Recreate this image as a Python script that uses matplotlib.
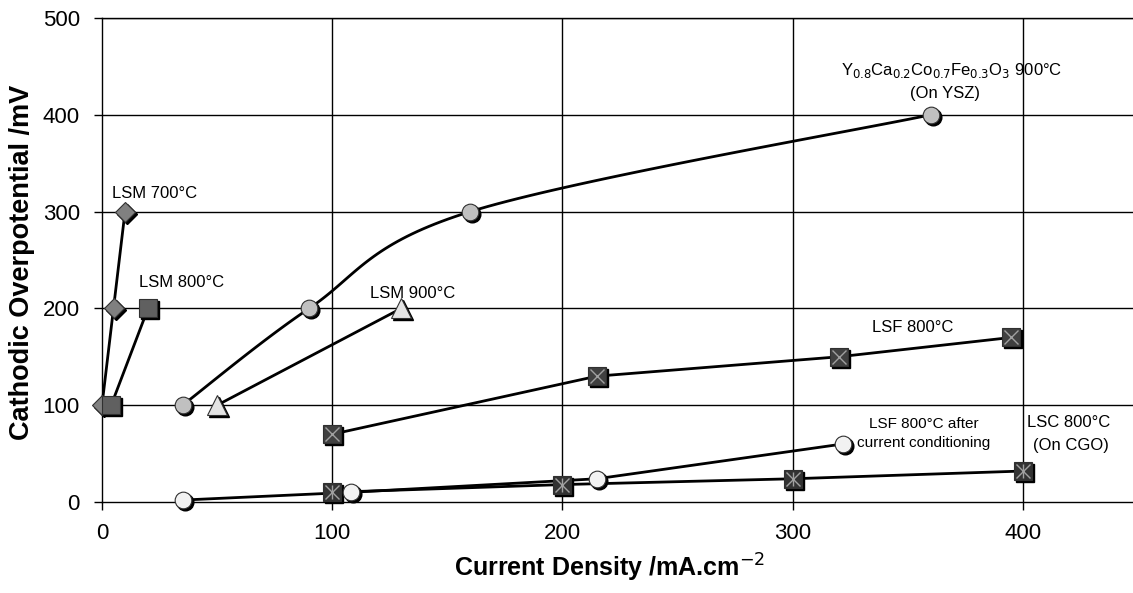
import numpy as np
import matplotlib
matplotlib.use('Agg')
import matplotlib.pyplot as plt
from matplotlib.transforms import offset_copy

plt.rcParams['font.family'] = ['Liberation Sans', 'DejaVu Sans']

# Data (current density mA/cm2, overpotential mV)
lsm700_x = [0, 5, 10]
lsm700_y = [100, 200, 300]
lsm800_x = [4, 20]
lsm800_y = [100, 200]
lsm900_x = [50, 130]
lsm900_y = [100, 200]
ycc_x = [35, 90, 160, 360]
ycc_y = [100, 200, 300, 400]
lsf_x = [100, 215, 320, 395]
lsf_y = [70, 130, 150, 170]
lsfc_x = [35, 108, 215, 322]
lsfc_y = [2, 10, 24, 60]
lsc_x = [100, 200, 300, 400]
lsc_y = [10, 18, 24, 32]

x_ticks = [0, 100, 200, 300, 400]
y_ticks = [0, 100, 200, 300, 400, 500]

fig = plt.figure(figsize=(11.33, 5.93), dpi=100)
ax = fig.add_axes([102 / 1133, 91 / 593, 1036 / 1133, 484 / 593])
ax.set_xlim(0, 450)
ax.set_ylim(0, 500)

# grid
for v in x_ticks[1:]:
    ax.axvline(v, color='black', lw=1, zorder=1)
for v in y_ticks[1:]:
    ax.axhline(v, color='black', lw=1, zorder=1)

shadow = offset_copy(ax.transData, fig=fig, x=2, y=-2, units='dots')


def smooth(xs, ys, n=40):
    # Excel-like smoothed line (bezier through points), done in pixel-ish space
    sx, sy = 2.3, 0.968
    p = np.column_stack([np.array(xs) * sx, np.array(ys) * sy])
    pts = np.vstack([p[0], p, p[-1]])
    out = []
    t = np.linspace(0, 1, n)[:, None]
    for i in range(1, len(pts) - 2):
        p0, p1 = pts[i], pts[i + 1]
        c1 = p0 + (pts[i + 1] - pts[i - 1]) / 6
        c2 = p1 - (pts[i + 2] - pts[i]) / 6
        seg = (1 - t) ** 3 * p0 + 3 * (1 - t) ** 2 * t * c1 + 3 * (1 - t) * t ** 2 * c2 + t ** 3 * p1
        out.append(seg)
    out = np.vstack(out)
    return out[:, 0] / sx, out[:, 1] / sy


def series(xs, ys, marker, color, ms, smooth_line=False, inner=None):
    if smooth_line:
        lx, ly = smooth(xs, ys)
    else:
        lx, ly = xs, ys
    ax.plot(lx, ly, color='black', lw=2, zorder=3, clip_on=False)
    ax.plot(xs, ys, ls='none', marker=marker, ms=ms, color='black',
            mec='black', transform=shadow, zorder=4, clip_on=False)
    ax.plot(xs, ys, ls='none', marker=marker, ms=ms, mfc=color,
            mec='#303030', mew=0.8, zorder=5, clip_on=False)
    if inner:
        for m in inner:
            ax.plot(xs, ys, ls='none', marker=m, ms=ms * 0.75, mec='#a0a0a0',
                    mew=1, zorder=6, clip_on=False)


series(lsm700_x, lsm700_y, 'D', '#808080', 10)
series(lsm800_x, lsm800_y, 's', '#606060', 13)
series(ycc_x, ycc_y, 'o', '#c0c0c0', 12, smooth_line=True)
series(lsm900_x, lsm900_y, '^', '#e4e4e4', 14)
series(lsf_x, lsf_y, 's', '#404040', 13, inner=['x'])
series(lsfc_x, lsfc_y, 'o', '#f2f2f2', 12)
series(lsc_x, lsc_y, 's', '#333333', 13, inner=['x', '|'])

# annotations
fs = 12
ax.text(4.5, 319, 'LSM 700°C', fontsize=fs, va='center', ha='left')
ax.text(16, 227, 'LSM 800°C', fontsize=fs, va='center', ha='left')
ax.text(135, 215, 'LSM 900°C', fontsize=fs, va='center', ha='center')
ax.text(369, 446, r'Y$_{0.8}$Ca$_{0.2}$Co$_{0.7}$Fe$_{0.3}$O$_{3}$ 900°C',
        fontsize=fs, va='center', ha='center')
ax.text(366, 422, '(On YSZ)', fontsize=fs, va='center', ha='center')
ax.text(352, 180, 'LSF 800°C', fontsize=fs, va='center', ha='center')
ax.text(357, 81, 'LSF 800°C after', fontsize=11, va='center', ha='center')
ax.text(357, 61, 'current conditioning', fontsize=11, va='center', ha='center')
ax.text(402, 82, 'LSC 800°C', fontsize=fs, va='center', ha='left')
ax.text(421, 58, '(On CGO)', fontsize=fs, va='center', ha='center')

ax.spines['right'].set_visible(False)
for s in ['left', 'bottom', 'top']:
    ax.spines[s].set_linewidth(1)
ax.set_xticks(x_ticks)
ax.set_yticks(y_ticks)
ax.tick_params(direction='out', length=6, width=1, labelsize=16)
ax.tick_params(axis='x', pad=9)
ax.tick_params(axis='y', pad=10)
ax.set_xlabel('Current Density /mA.cm$^{-2}$', fontsize=18, fontweight='bold')
ax.set_ylabel('Cathodic Overpotential /mV', fontsize=19.5, fontweight='bold')
ax.xaxis.set_label_coords((610 - 102) / 1036, (502 - 568) / 484)
ax.yaxis.set_label_coords((22 - 102) / 1036, (502 - 262) / 484)
ax.xaxis.label.set_va('center')
ax.yaxis.label.set_va('center')

fig.savefig('out.png', dpi=100)
